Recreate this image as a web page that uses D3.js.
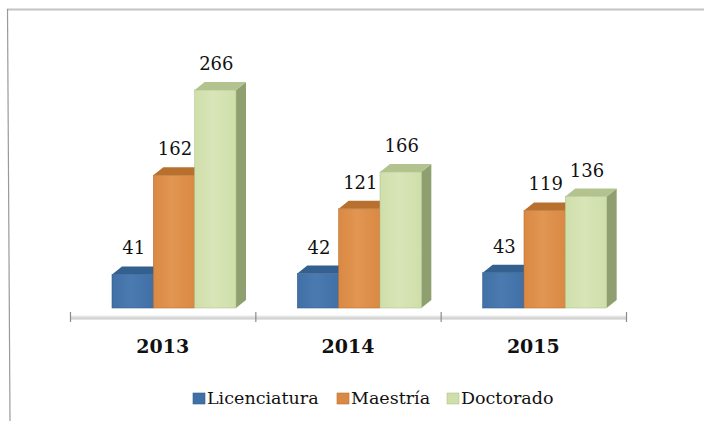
<!DOCTYPE html>
<html>
<head>
<meta charset="utf-8">
<script src="https://cdn.jsdelivr.net/npm/d3@7"></script>
<style>
  html, body { margin: 0; padding: 0; background: #fff; }
  svg { display: block; }
</style>
</head>
<body>
<script>
// chart data
const years = ["2013", "2014", "2015"];
const series = ["Licenciatura", "Maestría", "Doctorado"];
const licenciatura = [41, 42, 43];
const maestria = [162, 121, 119];
const doctorado = [266, 166, 136];

const width = 704;
const height = 421;
const baseY = 308;          // front bottom of the bars
const depth = { dx: 10, dy: -8 }; // 3D depth of the boxes

const values = [licenciatura, maestria, doctorado];
const rows = years.flatMap((yr, i) => series.map((s, j) => ({ year: yr, series: s, si: j, value: values[j][i] })));

// colours per series: front, top, side
const palette = [
  { front: "#4070a5", light: "#4a7ab0", top: "#34608f", side: "#2f5680" },
  { front: "#da8944", light: "#e19651", top: "#b8702f", side: "#a9662b" },
  { front: "#cfdfaa", light: "#d8e5b8", top: "#b3c390", side: "#909f70" }
];

const svg = d3.select("body").append("svg")
  .attr("width", width)
  .attr("height", height)
  .attr("viewBox", [0, 0, width, height]);

// gradients for the front faces
const defs = svg.append("defs");
palette.forEach((c, i) => {
  const g = defs.append("linearGradient").attr("id", "front" + i)
    .attr("x1", 0).attr("x2", 1).attr("y1", 0).attr("y2", 0);
  g.append("stop").attr("offset", "0%").attr("stop-color", c.front);
  g.append("stop").attr("offset", "45%").attr("stop-color", c.light);
  g.append("stop").attr("offset", "100%").attr("stop-color", c.front);
});
const axGrad = defs.append("linearGradient").attr("id", "axisband")
  .attr("x1", 0).attr("x2", 0).attr("y1", 0).attr("y2", 1);
axGrad.append("stop").attr("offset", "0%").attr("stop-color", "#eeeeee");
axGrad.append("stop").attr("offset", "100%").attr("stop-color", "#c8c8c8");

// outer frame (top and left edges visible)
svg.append("line").attr("x1", 7).attr("x2", width).attr("y1", 9.5).attr("y2", 9.5)
  .attr("stroke", "#c3c3c3").attr("stroke-width", 2);
svg.append("line").attr("x1", 7.5).attr("x2", 10).attr("y1", 9).attr("y2", height)
  .attr("stroke", "#9a9a9a").attr("stroke-width", 1.2);

// scales
const x0 = d3.scaleBand().domain(years).range([70, 626]).padding(0);
const x1 = d3.scaleBand().domain(series).range([42, 166]).padding(0);
const y = d3.scaleLinear().domain([0, 266]).range([baseY, baseY - 218]);

// axis band + ticks
svg.append("rect").attr("x", 70).attr("y", 315.5).attr("width", 556).attr("height", 4)
  .attr("fill", "url(#axisband)");
const axis = svg.append("g").attr("transform", "translate(0,317)")
  .call(d3.axisBottom(x0).tickSize(0).tickPadding(23));
axis.select(".domain").remove();
axis.selectAll("text")
  .attr("font-family", "'DejaVu Serif', serif")
  .attr("font-weight", "bold")
  .attr("font-size", 19)
  .attr("fill", "#111");
const tickXs = years.map(yr => x0(yr)).concat([x0.range()[1]]);
svg.append("g").selectAll("line").data(tickXs).join("line")
  .attr("x1", d => d + 0.5).attr("x2", d => d + 0.5)
  .attr("y1", 312).attr("y2", 322)
  .attr("stroke", "#8a8a8a").attr("stroke-width", 1.2);

// bars (front, top, side)
const bars = svg.append("g").selectAll("g").data(rows).join("g");
bars.append("path")
  .attr("d", d => {
    const x = x0(d.year) + x1(d.series) + x1.bandwidth();
    const t = y(d.value);
    return `M${x},${t}L${x + depth.dx},${t + depth.dy}L${x + depth.dx},${baseY + depth.dy}L${x},${baseY}Z`;
  })
  .attr("fill", d => palette[d.si].side);
bars.append("path")
  .attr("d", d => {
    const x = x0(d.year) + x1(d.series);
    const w = x1.bandwidth();
    const t = y(d.value);
    return `M${x},${t}L${x + w},${t}L${x + w + depth.dx},${t + depth.dy}L${x + depth.dx},${t + depth.dy}Z`;
  })
  .attr("fill", d => palette[d.si].top);
bars.append("rect")
  .attr("x", d => x0(d.year) + x1(d.series))
  .attr("y", d => y(d.value))
  .attr("width", x1.bandwidth())
  .attr("height", d => baseY - y(d.value))
  .attr("fill", d => `url(#front${d.si})`)
  .attr("stroke", d => palette[d.si].top)
  .attr("stroke-width", 0.6);

// value labels
svg.append("g").selectAll("text").data(rows).join("text")
  .attr("x", d => x0(d.year) + x1(d.series) + x1.bandwidth() / 2 + 1)
  .attr("y", d => y(d.value) - 20)
  .attr("text-anchor", "middle")
  .attr("font-family", "'DejaVu Serif', serif")
  .attr("font-size", 18)
  .attr("fill", "#111")
  .text(d => d.value);

// legend
const legendX = [193, 337, 447];
const legend = svg.append("g").selectAll("g").data(series).join("g")
  .attr("transform", (d, i) => `translate(${legendX[i]},393)`);
legend.append("rect").attr("width", 12).attr("height", 11)
  .attr("fill", (d, i) => palette[i].front)
  .attr("stroke", (d, i) => palette[i].top).attr("stroke-width", 0.6);
legend.append("text")
  .attr("x", 14).attr("y", 11)
  .attr("font-family", "'DejaVu Serif', serif")
  .attr("font-size", 17.5)
  .attr("fill", "#111")
  .text(d => d);
</script>
</body>
</html>
